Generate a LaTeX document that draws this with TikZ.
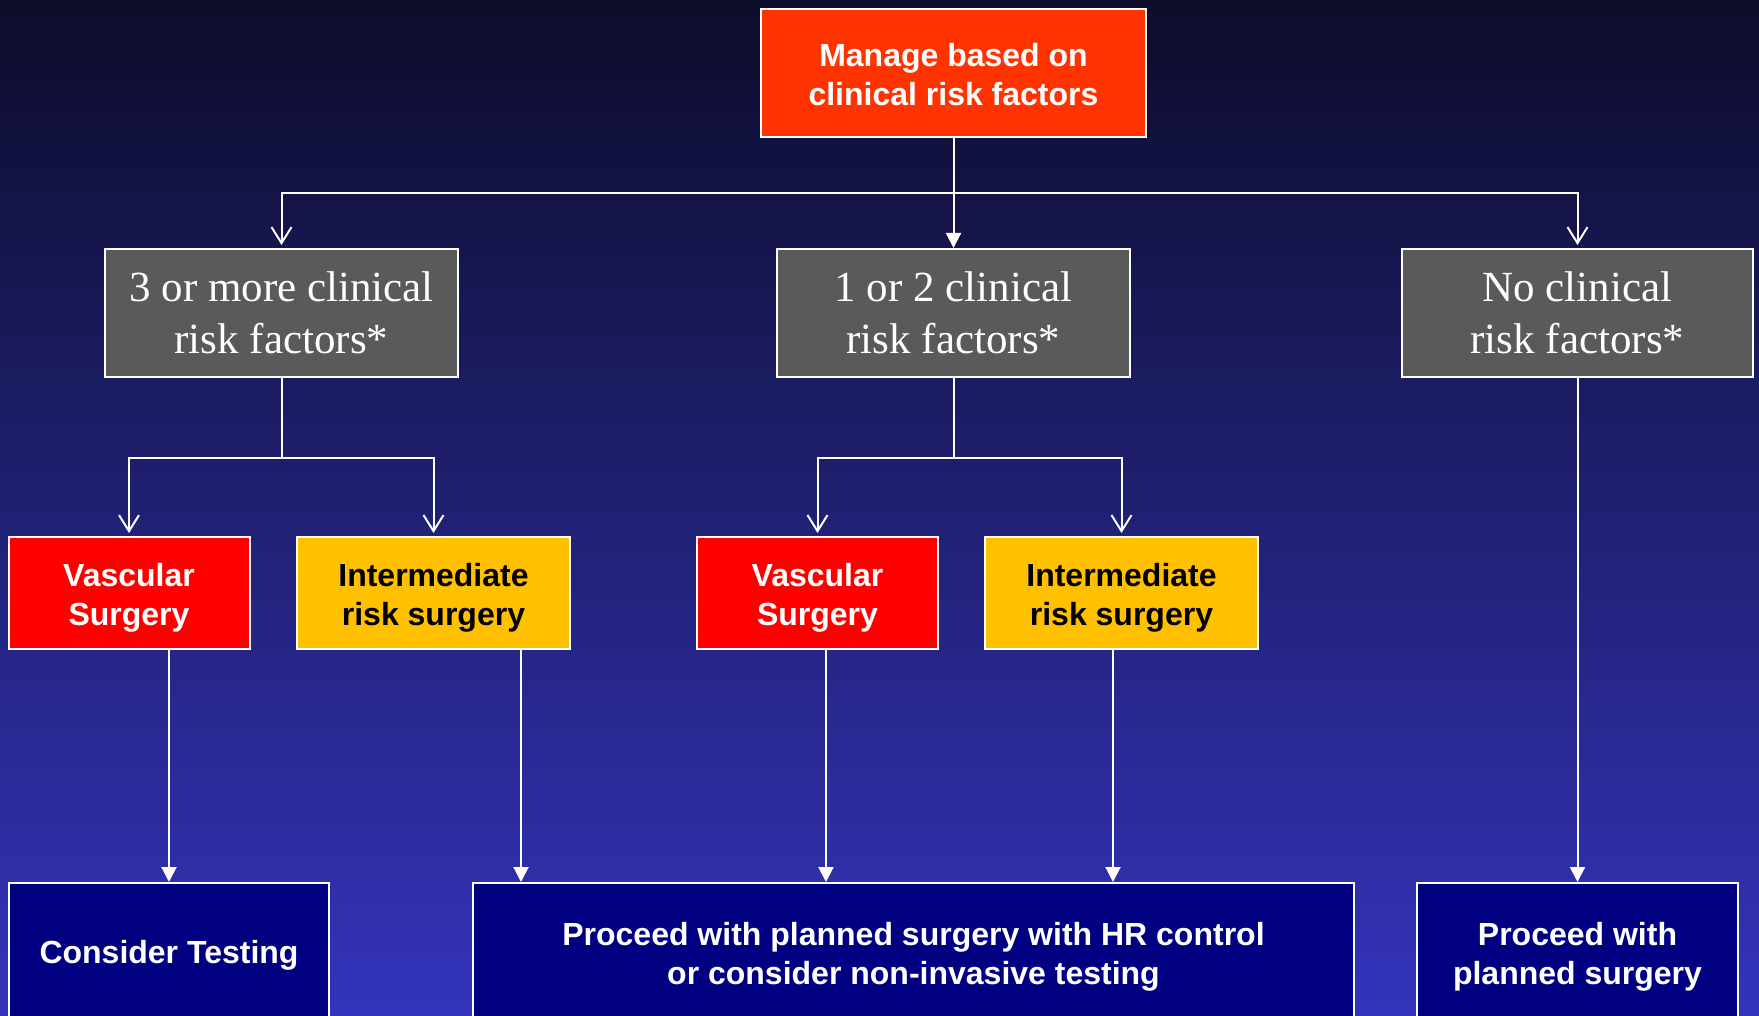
\documentclass[tikz,border=0pt]{standalone}
\usepackage{fontspec}
\setmainfont{Liberation Serif}
\newfontfamily\arialfont{Liberation Sans}
\usetikzlibrary{arrows.meta}
\definecolor{bgtop}{RGB}{12,12,42}
\definecolor{bgmid}{RGB}{32,32,132}
\definecolor{bgbot}{RGB}{52,52,188}
\definecolor{boxgray}{RGB}{90,90,90}
\definecolor{topred}{RGB}{255,51,0}
\definecolor{vred}{RGB}{255,0,0}
\definecolor{iyellow}{RGB}{255,192,0}
\definecolor{navybox}{RGB}{0,0,128}
\newcommand{\lowtext}[2]{\raisebox{-#1}[\height][\depth]{\begin{tabular}{@{}c@{}}#2\end{tabular}}}
\begin{document}
\begin{tikzpicture}[x=1pt,y=-1pt,
  box/.style={draw=white,line width=2pt,inner sep=0pt,align=center},
  sansbox/.style={box,font=\arialfont\bfseries\fontsize{32}{39}\selectfont},
  serifbox/.style={box,fill=boxgray,text=white,font=\fontsize{43}{52}\selectfont,minimum height=128pt},
  link/.style={draw=white,line width=2pt},
  openarr/.style={link,-{Straight Barb[length=16pt,width=20pt,line width=2pt]},shorten >=3pt},
  fillarr/.style={link,-{Triangle[length=15pt,width=15pt]}}
]
\useasboundingbox (0,0) rectangle (1759,1016);
\clip (0,0) rectangle (1759,1016);
\fill[top color=bgtop,middle color=bgmid,bottom color=bgbot] (0,0) rectangle (1759,1016);

% top
\node[sansbox,fill=topred,text=white,minimum width=385pt,minimum height=128pt] (top) at (953.5,73) {\lowtext{5.5pt}{Manage based on\\clinical risk factors}};

% gray row
\node[serifbox,minimum width=353pt] (g1) at (281.5,313) {3 or more clinical\\risk factors*};
\node[serifbox,minimum width=353pt] (g2) at (953.5,313) {1 or 2 clinical\\risk factors*};
\node[serifbox,minimum width=351pt] (g3) at (1577.5,313) {No clinical\\risk factors*};

% surgery row
\node[sansbox,fill=vred,text=white,minimum width=241pt,minimum height=112pt] (v1) at (129,593) {\lowtext{5.5pt}{Vascular\\Surgery}};
\node[sansbox,fill=iyellow,text=black,minimum width=273pt,minimum height=112pt] (i1) at (433.5,593) {\lowtext{5.5pt}{Intermediate\\risk surgery}};
\node[sansbox,fill=vred,text=white,minimum width=241pt,minimum height=112pt] (v2) at (817.5,593) {\lowtext{5.5pt}{Vascular\\Surgery}};
\node[sansbox,fill=iyellow,text=black,minimum width=273pt,minimum height=112pt] (i2) at (1121.5,593) {\lowtext{5.5pt}{Intermediate\\risk surgery}};

% bottom row
\node[sansbox,fill=navybox,text=white,minimum width=320pt,minimum height=139pt] (b1) at (169,952.5) {\lowtext{3.5pt}{Consider Testing}};
\node[sansbox,fill=navybox,text=white,minimum width=881pt,minimum height=139pt] (b2) at (913.5,952.5) {\lowtext{4.5pt}{Proceed with planned surgery with HR control\\or consider non-invasive testing}};
\node[sansbox,fill=navybox,text=white,minimum width=321pt,minimum height=139pt] (b3) at (1577.5,952.5) {\lowtext{4.5pt}{Proceed with\\planned surgery}};

% connectors top
\coordinate (j0) at (953.5,193);
\draw[fillarr] (top) -- (g2);
\draw[openarr] (j0) -| (g1.north);
\draw[openarr] (j0) -| (g3.north);

% left branch
\coordinate (j1) at (281.5,457.5);
\draw[link] (g1.south) -- (j1);
\draw[openarr] (j1) -| (v1.north);
\draw[openarr] (j1) -| (i1.north);

% middle branch
\coordinate (j2) at (953.5,457.5);
\draw[link] (g2.south) -- (j2);
\draw[openarr] (j2) -| (v2.north);
\draw[openarr] (j2) -| (i2.north);

% down to bottom
\draw[fillarr] (v1.south -| b1.north) -- (b1.north);
\draw[fillarr] ([xshift=87.5pt]i1.south) -- ([xshift=87.5pt]i1.south |- b2.north);
\draw[fillarr] ([xshift=8.5pt]v2.south) -- ([xshift=8.5pt]v2.south |- b2.north);
\draw[fillarr] ([xshift=-8.5pt]i2.south) -- ([xshift=-8.5pt]i2.south |- b2.north);
\draw[fillarr] (g3) -- (b3);
\end{tikzpicture}
\end{document}
